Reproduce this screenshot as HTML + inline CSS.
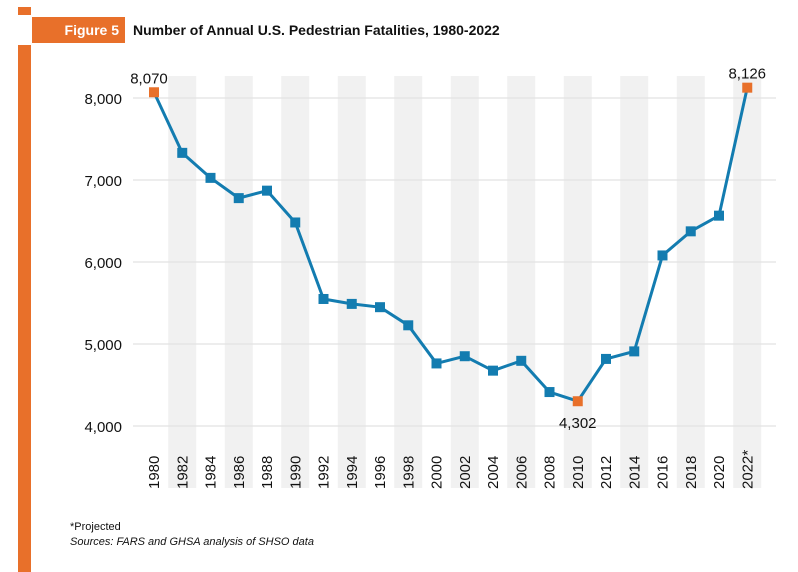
<!DOCTYPE html>
<html><head><meta charset="utf-8"><style>
body{margin:0;background:#fff;width:798px;height:572px;overflow:hidden;font-family:"Liberation Sans",sans-serif;}
</style></head><body>
<svg id="c" width="798" height="572" style="position:absolute;left:0;top:0">
<rect x="18" y="7" width="13" height="8" fill="#e8702a"/>
<rect x="32" y="17" width="93" height="26" fill="#e8702a"/>
<rect x="18" y="45" width="13" height="527" fill="#e8702a"/>
<text x="119" y="35" text-anchor="end" fill="#fff" font-weight="bold" font-size="14">Figure 5</text>
<text x="133" y="35" fill="#111" font-weight="bold" font-size="14">Number of Annual U.S. Pedestrian Fatalities, 1980-2022</text>
<g id="bands"></g><g id="grid"></g><g id="ylab"></g><g id="xlab"></g><g id="series"></g><g id="ann"></g>
<text x="70" y="530" font-size="11" fill="#111">*Projected</text>
<text x="70" y="545" font-size="11" font-style="italic" fill="#111">Sources: FARS and GHSA analysis of SHSO data</text>
</svg>
<script>
const years=["1980","1982","1984","1986","1988","1990","1992","1994","1996","1998","2000","2002","2004","2006","2008","2010","2012","2014","2016","2018","2020","2022*"];
const fatalities=[8070,7331,7026,6779,6870,6482,5549,5489,5449,5228,4763,4851,4675,4795,4414,4302,4818,4910,6080,6374,6565,8126];
const yTicks=[4000,5000,6000,7000,8000];
const highlighted=[0,15,21];
const NS="http://www.w3.org/2000/svg";
const x0=154,step=28.25;
const xs=i=>x0+i*step;
const ys=v=>98+(8000-v)*0.082;
function mk(t,a,p){const e=document.createElementNS(NS,t);for(const k in a)e.setAttribute(k,a[k]);document.getElementById(p).appendChild(e);return e;}
years.forEach((y,i)=>{
 if(i%2==1){const b=mk('rect',{x:xs(i)-14,y:76,width:28,height:412,fill:'#f1f1f1'},'bands');
 
 }
 const t=mk('text',{transform:`translate(${xs(i)+5},489) rotate(-90)`,'font-size':'15',fill:'#111'},'xlab');
 t.textContent=y;
 
 
});
yTicks.forEach(v=>{
 const l=mk('line',{x1:133,x2:776,y1:ys(v),y2:ys(v),stroke:'#e2e2e2','stroke-width':1.2},'grid');
 
 
 const t=mk('text',{x:122,y:ys(v)+6,'text-anchor':'end','font-size':'15',fill:'#111'},'ylab');
 t.textContent=v.toLocaleString('en-US');
 
 
});
const pl=mk('polyline',{points:fatalities.map((v,i)=>xs(i)+','+ys(v)).join(' '),fill:'none',stroke:'#137cb0','stroke-width':3,'stroke-linejoin':'round'},'series');


fatalities.forEach((v,i)=>{
 const h=highlighted.includes(i);
 const r=mk('rect',{x:xs(i)-5,y:ys(v)-5,width:10,height:10,fill:h?'#e8702a':'#137cb0'},'series');
 
 
 if(h){
  const below=i==15;
  const t=mk('text',{x:xs(i)+(i==0?-5:0),y:below?ys(v)+27:ys(v)-9,'text-anchor':'middle','font-size':'15',fill:'#111'},'ann');
  t.textContent=v.toLocaleString('en-US');
  
  
 }
});
</script>
</body></html>
